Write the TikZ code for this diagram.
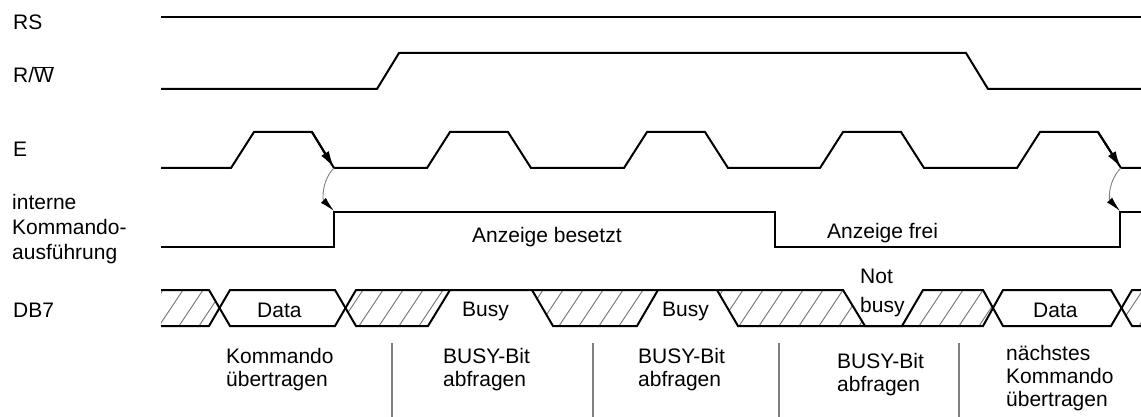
\documentclass[tikz,border=0pt]{standalone}
\usepackage{fontspec}
\setmainfont{Liberation Sans}
\usetikzlibrary{arrows.meta}
\newcommand\myhatch[1]{\begin{scope}\clip #1 -- cycle;
  \foreach \x in {99,119,...,1159} \draw[hatch] (\x,326) -- ++(24,-36);\end{scope}}
\begin{document}
\begin{tikzpicture}[x=1pt,y=-1pt,
  sig/.style={line width=2pt, line join=miter, black},
  hatch/.style={line width=0.9pt, black!55},
  lbl/.style={inner sep=0pt, anchor=base west, font=\fontsize{21}{25}\selectfont, align=left},
  blbl/.style={inner sep=0pt, anchor=base west, font=\fontsize{21}{22.7}\selectfont, align=left},
  divider/.style={line width=1.2pt, black!50},
  causal/.style={line width=0.9pt, black!50, -{Latex[length=15pt,width=7pt,color=black]}},
  edgearrow/.style={line width=2pt, -{Latex[length=17pt,width=9pt]}}
]
\useasboundingbox (0,0) rectangle (1141,417);

% labels (multi-line nodes: base = baseline of last line)
\node[lbl] (rs) at (13,30) {RS};
\node[lbl] (rw) at (13,83) {R/$\overline{\hbox{W}}$};
\node[lbl] (e) at (13,157) {E};
\node[lbl] (ika) at (12,259) {interne\\Kommando-\\ausführung};
\node[lbl] (db7) at (13,317) {DB7};

% RS
\draw[sig] (161,17) -- (1141,17);
% R/W
\draw[sig] (161,89) -- (377,89) -- (399,53) -- (966,53) -- (988,89) -- (1141,89);
% E
\draw[sig] (161,168) -- (231,168) -- (254,132) -- (312,132) -- (334,168)
  -- (427,168) -- (450,132) -- (508,132) -- (531,168)
  -- (624,168) -- (647,132) -- (705,132) -- (728,168)
  -- (820,168) -- (843,132) -- (901,132) -- (924,168)
  -- (1017,168) -- (1040,132) -- (1098,132) -- (1121,168) -- (1141,168);
\coordinate (ef1a) at (312,132);
\coordinate (ef1b) at (334,168);
\coordinate (ef5a) at (1098,132);
\coordinate (ef5b) at (1121,168);
\draw[edgearrow] (ef1a) -- (ef1b);
\draw[edgearrow] (ef5a) -- (ef5b);

% interne Kommandoausfuehrung
\draw[sig] (161,247) -- (334,247) -- (334,212) -- (775,212) -- (775,247)
  -- (1120,247) -- (1120,212) -- (1141,212);
\coordinate (ik1) at (334,211);
\coordinate (ik2) at (1120,211);
\draw[causal] (ef1b) to[bend right=45] (ik1);
\draw[causal] (ef5b) to[bend right=45] (ik2);

\node[lbl] (besetzt) at (472,242) {Anzeige besetzt};
\node[lbl] (frei) at (827,238) {Anzeige frei};

% DB7 hatching
\myhatch{(161,290) -- (209,290) -- (219.5,308) -- (209,326) -- (161,326)}
\myhatch{(356,290) -- (450,290) -- (428,326) -- (356,326) -- (345.5,308)}
\myhatch{(532,290) -- (658,290) -- (637,326) -- (553,326)}
\myhatch{(717,290) -- (843,290) -- (865,326) -- (738,326)}
\myhatch{(923,290) -- (983,290) -- (993,308) -- (983,326) -- (902,326)}
\myhatch{(1141,290) -- (1132,290) -- (1121.5,308) -- (1132,326) -- (1141,326)}

% DB7 outline
\draw[sig] (161,290) -- (209,290) -- (230,326) -- (335,326) -- (356,290) -- (843,290) -- (865,326) -- (902,326) -- (923,290) -- (983,290) -- (1003,326) -- (1111,326) -- (1132,290) -- (1141,290);
\draw[sig] (161,326) -- (209,326) -- (230,290) -- (335,290) -- (356,326) -- (428,326) -- (450,290);
\draw[sig] (532,290) -- (553,326) -- (637,326) -- (658,290);
\draw[sig] (717,290) -- (738,326) -- (983,326) -- (1003,290) -- (1111,290) -- (1132,326) -- (1141,326);

\node[lbl] (d1) at (257,317) {Data};
\node[lbl] (b1) at (462,316) {Busy};
\node[lbl] (b2) at (662,316) {Busy};
\node[lbl] (nb1) at (860,283) {Not};
\node[lbl] (nb2) at (860,312) {busy};
\node[lbl] (d2) at (1033,317) {Data};

% dividers
\coordinate (v1a) at (392,343); \coordinate (v1b) at (392,417);
\coordinate (v2a) at (593,343); \coordinate (v2b) at (593,417);
\coordinate (v3a) at (779,343); \coordinate (v3b) at (779,417);
\coordinate (v4a) at (959,343); \coordinate (v4b) at (959,417);
\draw[divider] (v1a) -- (v1b);
\draw[divider] (v2a) -- (v2b);
\draw[divider] (v3a) -- (v3b);
\draw[divider] (v4a) -- (v4b);

% phase labels
\node[blbl] (p1) at (226,386) {Kommando\\übertragen};
\node[blbl] (p2) at (443,386) {BUSY-Bit\\abfragen};
\node[blbl] (p3) at (638,386) {BUSY-Bit\\abfragen};
\node[blbl] (p4) at (837,391) {BUSY-Bit\\abfragen};
\node[blbl] (p5) at (1006,406) {nächstes\\Kommando\\übertragen};
\end{tikzpicture}
\end{document}
